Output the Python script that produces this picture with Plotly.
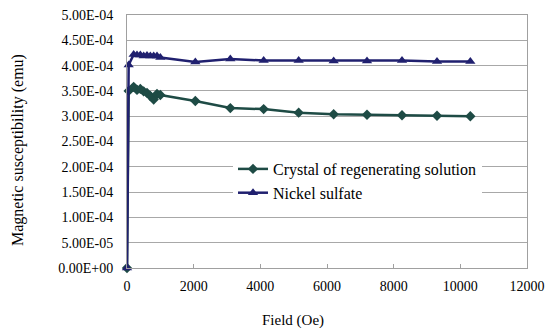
import plotly.graph_objects as go

field = [0, 50, 200, 300, 400, 500, 600, 700, 800, 900, 1000,
         2050, 3100, 4100, 5150, 6200, 7200, 8250, 9300, 10300]
crystal = [0, 3.50e-4, 3.58e-4, 3.52e-4, 3.54e-4, 3.49e-4, 3.46e-4, 3.40e-4, 3.33e-4, 3.44e-4, 3.42e-4,
           3.30e-4, 3.16e-4, 3.14e-4, 3.07e-4, 3.04e-4, 3.03e-4, 3.02e-4, 3.01e-4, 3.00e-4]
nickel = [0, 4.01e-4, 4.22e-4, 4.21e-4, 4.21e-4, 4.19e-4, 4.20e-4, 4.19e-4, 4.19e-4, 4.19e-4, 4.16e-4,
          4.07e-4, 4.13e-4, 4.10e-4, 4.10e-4, 4.09e-4, 4.09e-4, 4.10e-4, 4.08e-4, 4.08e-4]
ytick_vals = [i * 5e-5 for i in range(11)]
ytick_text = ["0.00E+00", "5.00E-05", "1.00E-04", "1.50E-04", "2.00E-04", "2.50E-04",
              "3.00E-04", "3.50E-04", "4.00E-04", "4.50E-04", "5.00E-04"]
xtick_vals = [0, 2000, 4000, 6000, 8000, 10000, 12000]
xtick_text = ["0", "2000", "4000", "6000", "8000", "10000", "12000"]

FONT = "Liberation Serif, Times New Roman, serif"
GREEN = "#1E4B45"
NAVY = "#20206F"

fig = go.Figure()
fig.add_trace(go.Scatter(x=field, y=crystal, name="Crystal of regenerating solution",
                         mode="lines+markers", cliponaxis=False,
                         line=dict(color=GREEN, width=2.5),
                         marker=dict(symbol="diamond", size=8, color=GREEN)))
fig.add_trace(go.Scatter(x=field, y=nickel, name="Nickel sulfate",
                         mode="lines+markers", cliponaxis=False,
                         line=dict(color=NAVY, width=2.5),
                         marker=dict(symbol="triangle-up", size=9, color=NAVY)))

pw, ph = 551 - 127 - 24, 328 - 15 - 60

fig.update_layout(
    width=551, height=328,
    margin=dict(l=127, r=24, t=15, b=60, autoexpand=False),
    paper_bgcolor="white", plot_bgcolor="white",
    font=dict(family=FONT, size=14, color="black"),
    showlegend=True,
    legend=dict(x=(233 - 127) / pw, y=(268 - 152) / ph, xanchor="left", yanchor="top",
                bgcolor="white", borderwidth=0,
                font=dict(family=FONT, size=16, color="black"),
                tracegroupgap=8, itemwidth=30),
    xaxis=dict(range=[0, 12000], tickvals=xtick_vals, ticktext=xtick_text,
               showgrid=False, zeroline=False, automargin=False,
               showline=True, linecolor="#A0A0A0", linewidth=1, mirror=True,
               ticks="inside", ticklen=4, tickcolor="#A0A0A0", ticklabelstandoff=5,
               tickfont=dict(family=FONT, size=14)),
    yaxis=dict(range=[0, 5e-4], tickvals=ytick_vals, ticktext=ytick_text,
               showgrid=True, gridcolor="#A8A8A8", gridwidth=1, zeroline=False,
               automargin=False,
               showline=True, linecolor="#A0A0A0", linewidth=1, mirror=True,
               ticks="outside", ticklen=10, tickcolor="rgba(0,0,0,0)",
               tickfont=dict(family=FONT, size=14)),
    annotations=[
        dict(text="Field (Oe)", x=(293 - 127) / pw, y=-(320 - 268) / ph,
             xref="paper", yref="paper", xanchor="center", yanchor="middle",
             showarrow=False, font=dict(family=FONT, size=15)),
        dict(text="Magnetic susceptibility (emu)", x=-(127 - 18) / pw, y=(268 - 150) / ph,
             xref="paper", yref="paper", xanchor="center", yanchor="middle",
             showarrow=False, textangle=-90, font=dict(family=FONT, size=16)),
    ],
)

fig.write_html("out.html")
